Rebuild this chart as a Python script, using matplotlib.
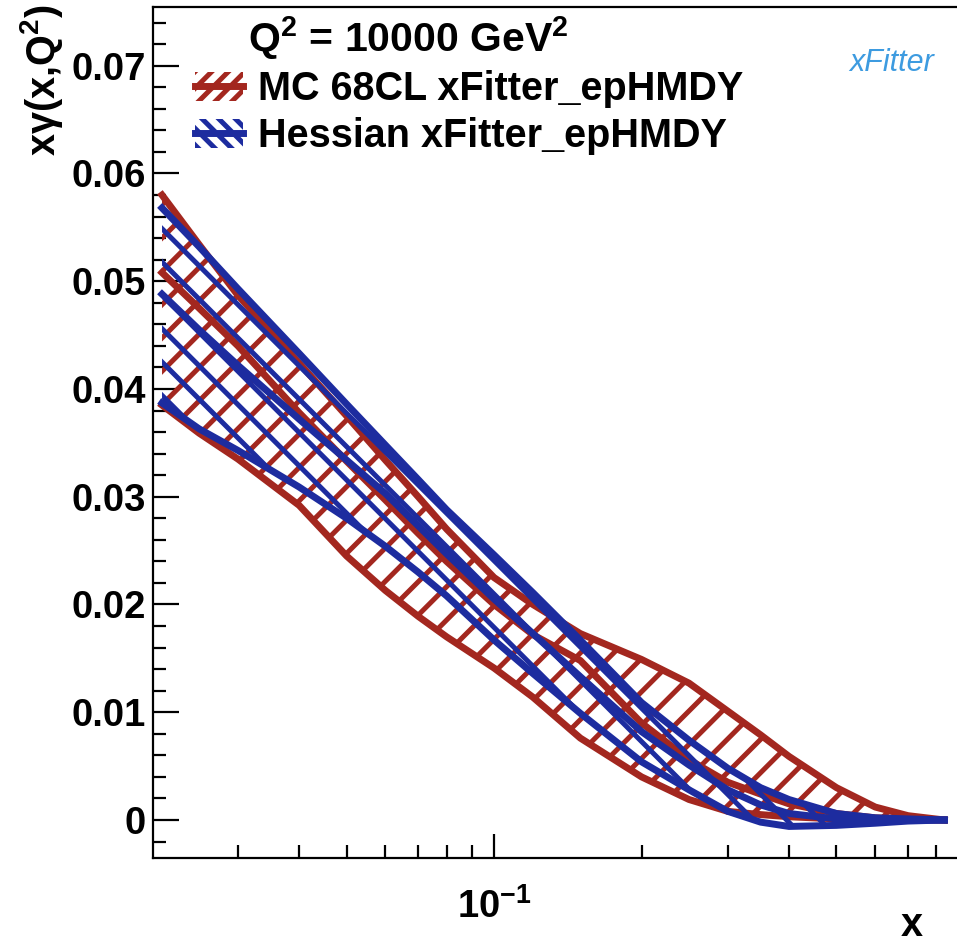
import matplotlib
matplotlib.use("Agg")
import matplotlib.pyplot as plt
from matplotlib.patches import Patch
from matplotlib.lines import Line2D
from matplotlib.ticker import MultipleLocator, NullFormatter, LogLocator
from matplotlib.legend_handler import HandlerTuple

# ---------------- data ----------------
x = [0.021, 0.025, 0.03, 0.04, 0.05, 0.06, 0.07, 0.08, 0.1, 0.12, 0.15,
     0.2, 0.25, 0.3, 0.35, 0.4, 0.5, 0.6, 0.7, 0.83]

mc_up = [0.0580, 0.0534, 0.0487, 0.0424, 0.0375, 0.0334, 0.0300, 0.0270, 0.0225,
         0.0200, 0.0173, 0.0149, 0.0127, 0.0101, 0.0079, 0.0059, 0.0030, 0.0012,
         0.0004, 0.0]
mc_cen = [0.0508, 0.0475, 0.0440, 0.0378, 0.0333, 0.0297, 0.0266, 0.0240, 0.0200,
          0.0172, 0.0148, 0.0090, 0.0056, 0.0035, 0.0024, 0.0015, 0.0006, 0.0002,
          0.0001, 0.0]
mc_lo = [0.0385, 0.0359, 0.0335, 0.0292, 0.0245, 0.0213, 0.0189, 0.0170, 0.0141,
         0.0114, 0.0076, 0.0040, 0.0019, 0.0008, 0.0005, 0.0003, 0.0001, 0.0,
         0.0, 0.0]

hes_up = [0.0568, 0.0532, 0.0493, 0.0433, 0.0386, 0.0348, 0.0316, 0.0288, 0.0246,
          0.0211, 0.0167, 0.0109, 0.0074, 0.0048, 0.0030, 0.0019, 0.0006, 0.0002,
          0.0001, 0.0]
hes_cen = [0.0488, 0.0455, 0.0422, 0.0372, 0.0334, 0.0303, 0.0273, 0.0247, 0.0205,
           0.0173, 0.0133, 0.0082, 0.0051, 0.0028, 0.0014, 0.0006, 0.0001, 0.0,
           0.0, 0.0]
hes_lo = [0.0387, 0.0363, 0.0343, 0.0309, 0.0280, 0.0254, 0.0230, 0.0208, 0.0167,
          0.0136, 0.0099, 0.0054, 0.0028, 0.0008, -0.0002, -0.0006, -0.0005,
          -0.0003, -0.0001, 0.0]

labels = ["MC 68CL xFitter_epHMDY", "Hessian xFitter_epHMDY"]
header = r"Q$^{2}$ = 10000 GeV$^{2}$"
ylabel = r"x$\gamma$(x,Q$^{2}$)"

RED = "#a3271f"
BLUE = "#1d2c9f"

# ---------------- style ----------------
plt.rcParams["font.family"] = ["Liberation Sans", "DejaVu Sans"]
plt.rcParams["font.weight"] = "bold"
plt.rcParams["mathtext.fontset"] = "custom"
plt.rcParams["mathtext.rm"] = "Liberation Sans:bold"
plt.rcParams["mathtext.it"] = "Liberation Sans:bold"
plt.rcParams["mathtext.bf"] = "Liberation Sans:bold"
plt.rcParams["mathtext.default"] = "rm"
plt.rcParams["hatch.linewidth"] = 3.6

W, H = 957, 943
fig = plt.figure(figsize=(W / 100, H / 100), dpi=100)
L, R, T, B = 152.7, 957, 7, 857.7
ax = fig.add_axes([L / W, 1 - B / H, (R - L) / W, (B - T) / H])

ax.set_xscale("log")
ax.set_xlim(0.0201, 0.881)
ax.set_ylim(-0.0035, 0.07545)

# red MC band
plt.rcParams["hatch.color"] = RED
ax.fill_between(x, mc_lo, mc_up, facecolor="none", edgecolor=RED, hatch="/",
                linewidth=0, zorder=2)
for yy in (mc_up, mc_cen, mc_lo):
    ax.plot(x, yy, color=RED, lw=5, zorder=3, solid_joinstyle="round")

# blue Hessian band
plt.rcParams["hatch.color"] = BLUE
ax.fill_between(x, hes_lo, hes_up, facecolor="none", edgecolor=BLUE, hatch="\\",
                linewidth=0, zorder=4)
for yy in (hes_up, hes_cen, hes_lo):
    ax.plot(x, yy, color=BLUE, lw=5, zorder=5, solid_joinstyle="round")

# axes styling
for s in ("left", "bottom", "top"):
    ax.spines[s].set_linewidth(1.6)
ax.spines["right"].set_visible(False)

ax.yaxis.set_major_locator(MultipleLocator(0.01))
ax.yaxis.set_minor_locator(MultipleLocator(0.002))
ax.yaxis.set_major_formatter(plt.FuncFormatter(lambda v, p: "0" if abs(v) < 1e-9 else f"{v:.2f}"))
ax.xaxis.set_major_locator(LogLocator(base=10))
ax.xaxis.set_minor_locator(LogLocator(base=10, subs=range(2, 10)))
ax.xaxis.set_minor_formatter(NullFormatter())

ax.tick_params(axis="y", which="major", direction="in", length=19, width=1.6,
               labelsize=27.5, pad=5)
ax.tick_params(axis="y", which="minor", direction="in", length=9, width=1.6)
ax.tick_params(axis="x", which="major", direction="in", length=17.5, width=1.6,
               labelsize=27.5, pad=22)
ax.tick_params(axis="x", which="minor", direction="in", length=9.5, width=1.6)
for lab in ax.get_xticklabels() + ax.get_yticklabels():
    lab.set_fontweight("bold")

# axis titles
fig.text(18 / W, 1 - 5 / H, ylabel, rotation=90, ha="left", va="top",
         fontsize=28.5, fontweight="bold")
fig.text(912 / W, 1 - 936 / H, "x", ha="center", va="baseline",
         fontsize=28.5, fontweight="bold")

# legend
fig.text(248 / W, 1 - 52 / H, header, ha="left", va="baseline",
         fontsize=29.5, fontweight="bold")
plt.rcParams["hatch.color"] = RED
h_red = (Patch(facecolor="none", edgecolor=RED, hatch="//", linewidth=0),
         Line2D([], [], color=RED, lw=5))
plt.rcParams["hatch.color"] = BLUE
h_blue = (Patch(facecolor="none", edgecolor=BLUE, hatch="\\\\", linewidth=0),
          Line2D([], [], color=BLUE, lw=5))
leg = ax.legend([h_red, h_blue], labels, handler_map={tuple: HandlerTuple(ndivide=1)},
                loc="upper left", bbox_to_anchor=(195 / W, 1 - 70 / H),
                bbox_transform=fig.transFigure, frameon=False,
                prop={"size": 28.5, "weight": "bold"}, handlelength=1.2,
                handleheight=0.75, handletextpad=0.38, labelspacing=0.23,
                borderpad=0, borderaxespad=0)

# xFitter logo (text)
fig.text(892 / W, 1 - 63 / H, "xFitter", ha="center", va="center", fontsize=22,
         style="italic", fontweight="normal", color="#3d9be0")

fig.savefig("out.png", dpi=100)
